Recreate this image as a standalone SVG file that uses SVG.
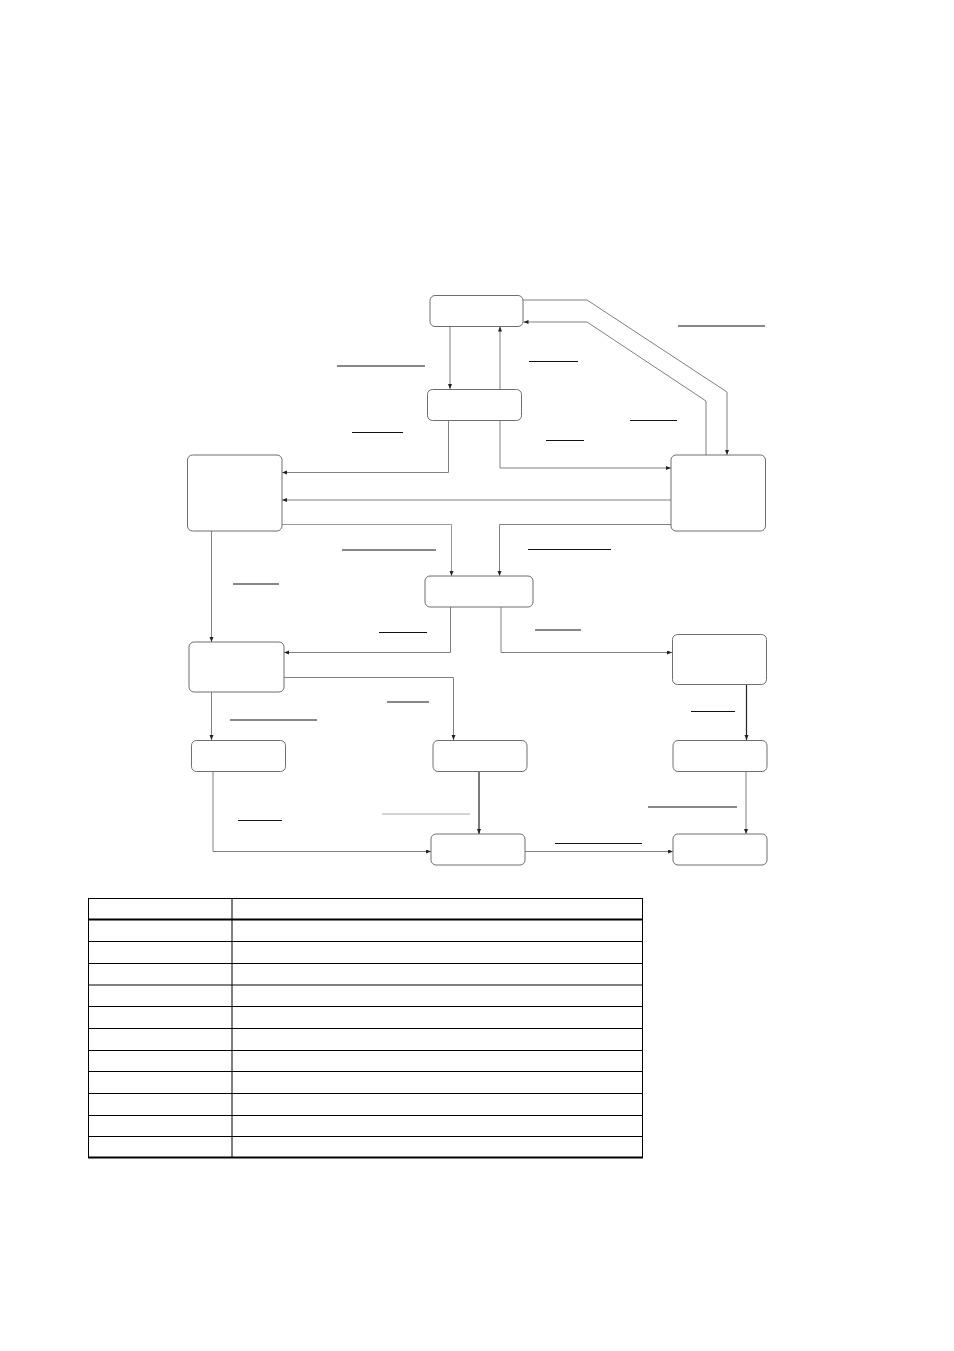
<svg xmlns="http://www.w3.org/2000/svg" width="954" height="1351" viewBox="0 0 954 1351">
<style>
.node{fill:#fff;stroke:#6e6e6e;stroke-width:1}
.c{fill:none;stroke:#808080;stroke-width:1;marker-end:url(#ah)}
.cd{fill:none;stroke:#222;stroke-width:1.2;marker-end:url(#ah)}
.lab{stroke:#111;stroke-width:1}
.labg{stroke:#aaa;stroke-width:1.2}
.tl{stroke:#000;stroke-width:1}
.tt{stroke:#000;stroke-width:2}
</style>
<defs>
<marker id="ah" markerUnits="userSpaceOnUse" markerWidth="6" markerHeight="5" refX="5" refY="2" orient="auto">
<path d="M0,0 L5,2 L0,4 z" fill="#222"/>
</marker>
</defs>
<rect width="954" height="1351" fill="#fff"/>
<g id="connectors">
<polyline class="c" points="450,326 450,389"/>
<polyline class="c" points="500,389 500,326.5"/>
<polyline class="c" points="523,300 587,300 727,392 727,455"/>
<polyline class="c" points="706,455 706,401 587,322 523.5,322"/>
<polyline class="c" points="448.5,421 448.5,472.5 282,472.5"/>
<polyline class="c" points="500,421 500,468 671,468"/>
<polyline class="c" points="671,500 282,500"/>
<polyline class="c" points="671,524.5 499.5,524.5 499.5,576"/>
<polyline class="c" points="282,524.5 451.5,524.5 451.5,576" style="stroke:#999"/>
<polyline class="c" points="211.5,531 211.5,642"/>
<polyline class="c" points="450.5,607 450.5,652.5 284,652.5"/>
<polyline class="c" points="501,607 501,652.5 672,652.5"/>
<polyline class="c" points="284,677.5 453.5,677.5 453.5,740"/>
<polyline class="c" points="211.5,692 211.5,740"/>
<polyline class="cd" points="479,771 479,834"/>
<polyline class="cd" points="746.5,684 746.5,740"/>
<polyline class="c" points="746,771 746,834"/>
<polyline class="c" points="213,771 213,851.5 431,851.5"/>
<polyline class="c" points="525,851.5 673,851.5"/>
</g>
<g id="nodes">
<g id="n-a"><rect class="node" x="430" y="295.5" width="93" height="31" rx="5"/></g>
<g id="n-b"><rect class="node" x="427.5" y="389.5" width="94" height="31" rx="5"/></g>
<g id="n-c"><rect class="node" x="671" y="455" width="94.5" height="76" rx="5"/></g>
<g id="n-d"><rect class="node" x="187.5" y="455" width="94.5" height="76" rx="5"/></g>
<g id="n-e"><rect class="node" x="425" y="576" width="108" height="31" rx="5"/></g>
<g id="n-f"><rect class="node" x="672.5" y="634.5" width="94" height="50" rx="5"/></g>
<g id="n-g"><rect class="node" x="189" y="642" width="95" height="50" rx="5"/></g>
<g id="n-h"><rect class="node" x="191.5" y="740.5" width="94" height="31" rx="5"/></g>
<g id="n-i"><rect class="node" x="433" y="740.5" width="94" height="31" rx="5"/></g>
<g id="n-l"><rect class="node" x="673" y="740.5" width="94" height="31" rx="5"/></g>
<g id="n-j"><rect class="node" x="431" y="834" width="94" height="31" rx="5"/></g>
<g id="n-k"><rect class="node" x="673" y="834" width="94" height="31" rx="5"/></g>
</g>
<g id="labels">
<line class="lab" x1="678" y1="326" x2="765" y2="326"/>
<line class="lab" x1="529" y1="361.5" x2="578" y2="361.5"/>
<line class="lab" x1="337" y1="366" x2="425" y2="366"/>
<line class="lab" x1="352" y1="432.5" x2="403" y2="432.5"/>
<line class="lab" x1="630" y1="420.5" x2="677" y2="420.5"/>
<line class="lab" x1="546" y1="440.5" x2="584" y2="440.5"/>
<line class="lab" x1="342" y1="550" x2="436" y2="550"/>
<line class="lab" x1="528" y1="549.5" x2="611" y2="549.5"/>
<line class="lab" x1="233" y1="584" x2="279" y2="584"/>
<line class="lab" x1="379" y1="632.5" x2="427" y2="632.5"/>
<line class="lab" x1="535" y1="630" x2="581" y2="630"/>
<line class="lab" x1="387" y1="702" x2="429" y2="702"/>
<line class="lab" x1="230" y1="720" x2="317" y2="720"/>
<line class="lab" x1="691" y1="711.5" x2="735" y2="711.5"/>
<line class="lab" x1="648" y1="807" x2="737" y2="807"/>
<line class="labg" x1="382" y1="814" x2="470" y2="814"/>
<line class="lab" x1="238" y1="820.5" x2="282" y2="820.5"/>
<line class="lab" x1="555" y1="843.5" x2="642" y2="843.5"/>
</g>
<g id="table">
<line class="tl" x1="88" y1="898.5" x2="643" y2="898.5"/>
<line class="tt" x1="88" y1="919.5" x2="643" y2="919.5"/>
<line class="tl" x1="88" y1="941.5" x2="643" y2="941.5"/>
<line class="tl" x1="88" y1="963.5" x2="643" y2="963.5"/>
<line class="tl" x1="88" y1="985" x2="643" y2="985"/>
<line class="tl" x1="88" y1="1006.5" x2="643" y2="1006.5"/>
<line class="tl" x1="88" y1="1028.5" x2="643" y2="1028.5"/>
<line class="tl" x1="88" y1="1050.5" x2="643" y2="1050.5"/>
<line class="tl" x1="88" y1="1071.5" x2="643" y2="1071.5"/>
<line class="tl" x1="88" y1="1093.5" x2="643" y2="1093.5"/>
<line class="tl" x1="88" y1="1115.5" x2="643" y2="1115.5"/>
<line class="tl" x1="88" y1="1136.5" x2="643" y2="1136.5"/>
<line class="tt" x1="88" y1="1157.5" x2="643" y2="1157.5"/>
<line class="tl" x1="88.5" y1="898" x2="88.5" y2="1158"/>
<line class="tl" x1="232" y1="898" x2="232" y2="1158"/>
<line class="tl" x1="642.5" y1="898" x2="642.5" y2="1158"/>
</g>
</svg>
